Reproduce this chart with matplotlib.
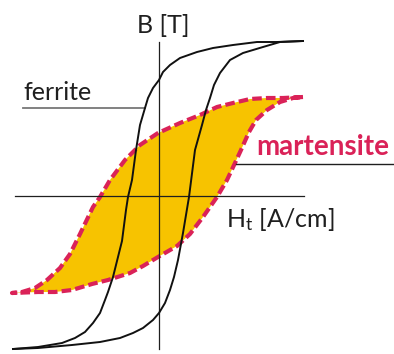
import matplotlib
matplotlib.use("Agg")
import matplotlib.pyplot as plt

plt.rcParams['font.family'] = ['Lato', 'DejaVu Sans']

# Ferrite hysteresis loop (H in A/cm, B in T)
ferrite_desc_H = [14.4, 11.8, 9.8, 7.4, 5.4, 3.8, 2.1, 1.1, 0.4, 0.0, -0.6, -1.1, -1.4,
                  -1.9, -2.3, -2.7, -3.1, -3.3, -3.7, -4.6, -5.1, -5.4, -5.9, -6.6,
                  -7.4, -8.4, -9.7, -12.1, -14.6]
ferrite_desc_B = [1.55, 1.54, 1.54, 1.51, 1.48, 1.44, 1.38, 1.31, 1.24, 1.16, 1.08, 0.98,
                  0.88, 0.71, 0.46, 0.16, -0.01, -0.14, -0.45, -0.81, -0.96, -1.04,
                  -1.17, -1.27, -1.36, -1.42, -1.47, -1.51, -1.53]
ferrite_asc_H = [-14.6, -12.1, -8.7, -5.9, -3.9, -2.6, -1.6, -0.6, 0.0, 0.6, 1.1, 1.5,
                 1.9, 2.4, 3.0, 3.6, 4.3, 4.7, 5.1, 5.5, 6.1, 7.1, 8.4, 10.4, 12.1, 14.4]
ferrite_asc_B = [-1.53, -1.52, -1.49, -1.46, -1.42, -1.37, -1.32, -1.24, -1.17, -1.07,
                 -0.94, -0.81, -0.64, -0.37, -0.01, 0.46, 0.71, 0.86, 0.98, 1.11, 1.23,
                 1.36, 1.43, 1.49, 1.54, 1.55]

# Martensite hysteresis loop
mart_desc_H = [14.4, 12.4, 10.8, 9.1, 7.4, 5.8, 4.1, 2.1, -0.1, -1.9, -3.4, -4.9, -5.9,
               -6.6, -7.9, -8.9, -9.9, -11.2, -12.4, -13.7, -14.7]
mart_desc_B = [0.99, 0.98, 0.98, 0.97, 0.93, 0.89, 0.81, 0.73, 0.63, 0.51, 0.36, 0.16,
               -0.01, -0.11, -0.38, -0.58, -0.72, -0.84, -0.92, -0.96, -0.97]
mart_asc_H = [-14.7, -12.1, -10.4, -8.7, -6.7, -5.1, -2.9, -1.6, -0.1, 1.8, 3.1, 4.4,
              5.8, 6.8, 7.6, 8.2, 9.0, 9.7, 10.8, 12.1, 13.4, 14.4]
mart_asc_B = [-0.97, -0.96, -0.96, -0.94, -0.88, -0.84, -0.77, -0.70, -0.61, -0.50,
              -0.38, -0.21, -0.01, 0.16, 0.33, 0.46, 0.64, 0.76, 0.86, 0.94, 0.98, 0.99]

# Axis extents
h_axis = [-14.4, 14.5]
b_axis = [-1.53, 1.54]

yellow = "#F7C300"
crimson = "#DA2258"
ink = "#1f1f1f"

fig = plt.figure(figsize=(3.94, 3.54), dpi=100)
ax = fig.add_axes([0, 0, 1, 1])
ax.set_xlim(-15.9, 23.5)
ax.set_ylim(-1.58, 1.96)
ax.axis("off")

# martensite loop: filled area with dashed outline
loop_H = mart_desc_H + mart_asc_H[1:]
loop_B = mart_desc_B + mart_asc_B[1:]
ax.fill(loop_H, loop_B, color=yellow, lw=0, zorder=1)
ax.plot(loop_H, loop_B, color=crimson, lw=3.0, dashes=(2.3, 1.0),
        solid_capstyle="butt", dash_capstyle="butt", zorder=2)

# coordinate axes
ax.plot(h_axis, [0, 0], color=ink, lw=0.9, zorder=3)
ax.plot([0, 0], b_axis, color=ink, lw=0.9, zorder=3)

# ferrite loop
ax.plot(ferrite_desc_H, ferrite_desc_B, color="#111111", lw=1.4, zorder=4)
ax.plot(ferrite_asc_H, ferrite_asc_B, color="#111111", lw=1.4, zorder=4)

# leader lines
ax.plot([-13.6, -1.4], [0.88, 0.88], color="#777777", lw=1.3, zorder=3)
ax.plot([7.7, 23.5], [0.32, 0.32], color=ink, lw=1.0, zorder=3)

# labels
ax.text(0.4, 1.63, "B [T]", ha="center", va="baseline", fontsize=18, color=ink)
ax.text(-13.6, 0.96, "ferrite", ha="left", va="baseline", fontsize=18, color=ink)
ax.text(9.7, 0.41, "martensite", ha="left", va="baseline", fontsize=20,
        fontweight="bold", color=crimson)
ax.text(6.7, -0.31, r"$\mathregular{H_t}$ [A/cm]", ha="left", va="baseline",
        fontsize=18, color=ink)

fig.savefig("out.png", dpi=100)
